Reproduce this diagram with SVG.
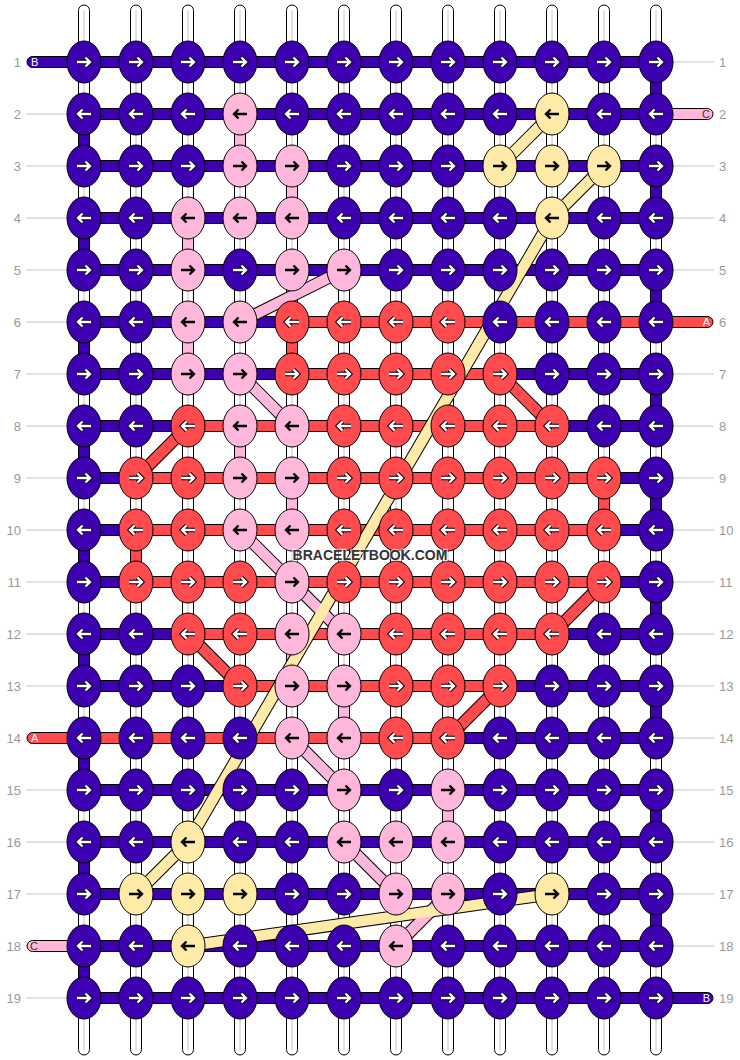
<svg xmlns="http://www.w3.org/2000/svg" xmlns:xlink="http://www.w3.org/1999/xlink" width="740" height="1060" viewBox="0 0 740 1060">
<style>
.bg{fill:#fff}
.w{fill:#fff;stroke:#000;stroke-width:1}
.wl{stroke:#c4c4c4;stroke-width:1}
.s{stroke:#000;stroke-width:1}
.P{fill:#3d00b0}
.R{fill:#ff4b4d}
.K{fill:#ffb8dc}
.Y{fill:#ffeaa8}
.do{stroke:#000;stroke-width:12.5;fill:none}
.dK{stroke:#ffb8dc;stroke-width:10.5;fill:none}
.dY{stroke:#ffeaa8;stroke-width:10.5;fill:none}
.dR{stroke:#ff4b4d;stroke-width:10.5;fill:none}
.lab{font-family:"Liberation Sans",Arial,sans-serif;font-size:13px;fill:#999}
.gl{stroke:#c4c4c4;stroke-width:1}
.tl{font-family:"Liberation Sans",Arial,sans-serif;font-size:11px}
.wm{font-family:"Liberation Sans",Arial,sans-serif;font-size:14px;font-weight:bold;fill:#333;stroke:#fff;stroke-opacity:0.6;stroke-width:2.5;paint-order:stroke}
</style>
<defs>
<ellipse id="kn" cx="0" cy="0" rx="17" ry="21" stroke="#000" stroke-width="1"/>
<path id="ar" d="M-7,0H5M1.5,-4.5L6,0L1.5,4.5" fill="none"/>
<path id="al" d="M7,0H-5M-1.5,-4.5L-6,0L-1.5,4.5" fill="none"/>
<g id="rw"><use href="#ar" stroke="#000" stroke-width="4.4"/><use href="#ar" stroke="#fff" stroke-width="2.4"/></g>
<g id="lw"><use href="#al" stroke="#000" stroke-width="4.4"/><use href="#al" stroke="#fff" stroke-width="2.4"/></g>
<g id="rb"><use href="#ar" stroke="#000" stroke-width="2.4"/></g>
<g id="lb"><use href="#al" stroke="#000" stroke-width="2.4"/></g>
</defs>
<rect class="bg" x="0" y="0" width="740" height="1060"/>

<g id="labels">
<g class="lab" text-anchor="end">
<text x="21" y="66.5">1</text><text x="21" y="118.5">2</text><text x="21" y="170.5">3</text><text x="21" y="222.5">4</text><text x="21" y="274.5">5</text><text x="21" y="326.5">6</text><text x="21" y="378.5">7</text><text x="21" y="430.5">8</text><text x="21" y="482.5">9</text><text x="21" y="534.5">10</text><text x="21" y="586.5">11</text><text x="21" y="638.5">12</text><text x="21" y="690.5">13</text><text x="21" y="742.5">14</text><text x="21" y="794.5">15</text><text x="21" y="846.5">16</text><text x="21" y="898.5">17</text><text x="21" y="950.5">18</text><text x="21" y="1002.5">19</text>
</g>
<g class="lab" text-anchor="start">
<text x="719" y="66.5">1</text><text x="719" y="118.5">2</text><text x="719" y="170.5">3</text><text x="719" y="222.5">4</text><text x="719" y="274.5">5</text><text x="719" y="326.5">6</text><text x="719" y="378.5">7</text><text x="719" y="430.5">8</text><text x="719" y="482.5">9</text><text x="719" y="534.5">10</text><text x="719" y="586.5">11</text><text x="719" y="638.5">12</text><text x="719" y="690.5">13</text><text x="719" y="742.5">14</text><text x="719" y="794.5">15</text><text x="719" y="846.5">16</text><text x="719" y="898.5">17</text><text x="719" y="950.5">18</text><text x="719" y="1002.5">19</text>
</g>
<g class="gl">
<line x1="26" y1="114" x2="68" y2="114"/><line x1="26" y1="166" x2="68" y2="166"/><line x1="26" y1="218" x2="68" y2="218"/><line x1="26" y1="270" x2="68" y2="270"/><line x1="26" y1="322" x2="68" y2="322"/><line x1="26" y1="374" x2="68" y2="374"/><line x1="26" y1="426" x2="68" y2="426"/><line x1="26" y1="478" x2="68" y2="478"/><line x1="26" y1="530" x2="68" y2="530"/><line x1="26" y1="582" x2="68" y2="582"/><line x1="26" y1="634" x2="68" y2="634"/><line x1="26" y1="686" x2="68" y2="686"/><line x1="26" y1="790" x2="68" y2="790"/><line x1="26" y1="842" x2="68" y2="842"/><line x1="26" y1="894" x2="68" y2="894"/><line x1="26" y1="998" x2="68" y2="998"/>
<line x1="672" y1="62" x2="714" y2="62"/><line x1="672" y1="166" x2="714" y2="166"/><line x1="672" y1="218" x2="714" y2="218"/><line x1="672" y1="270" x2="714" y2="270"/><line x1="672" y1="374" x2="714" y2="374"/><line x1="672" y1="426" x2="714" y2="426"/><line x1="672" y1="478" x2="714" y2="478"/><line x1="672" y1="530" x2="714" y2="530"/><line x1="672" y1="582" x2="714" y2="582"/><line x1="672" y1="634" x2="714" y2="634"/><line x1="672" y1="686" x2="714" y2="686"/><line x1="672" y1="738" x2="714" y2="738"/><line x1="672" y1="790" x2="714" y2="790"/><line x1="672" y1="842" x2="714" y2="842"/><line x1="672" y1="894" x2="714" y2="894"/><line x1="672" y1="946" x2="714" y2="946"/>
</g>
</g>

<g id="connectors">
<g id="warps">
<rect class="w" x="78.5" y="5" width="11" height="1050" rx="5.5"/><line class="wl" x1="84" y1="10" x2="84" y2="1050"/>
<rect class="w" x="130.5" y="5" width="11" height="1050" rx="5.5"/><line class="wl" x1="136" y1="10" x2="136" y2="1050"/>
<rect class="w" x="182.5" y="5" width="11" height="1050" rx="5.5"/><line class="wl" x1="188" y1="10" x2="188" y2="1050"/>
<rect class="w" x="234.5" y="5" width="11" height="1050" rx="5.5"/><line class="wl" x1="240" y1="10" x2="240" y2="1050"/>
<rect class="w" x="286.5" y="5" width="11" height="1050" rx="5.5"/><line class="wl" x1="292" y1="10" x2="292" y2="1050"/>
<rect class="w" x="338.5" y="5" width="11" height="1050" rx="5.5"/><line class="wl" x1="344" y1="10" x2="344" y2="1050"/>
<rect class="w" x="390.5" y="5" width="11" height="1050" rx="5.5"/><line class="wl" x1="396" y1="10" x2="396" y2="1050"/>
<rect class="w" x="442.5" y="5" width="11" height="1050" rx="5.5"/><line class="wl" x1="448" y1="10" x2="448" y2="1050"/>
<rect class="w" x="494.5" y="5" width="11" height="1050" rx="5.5"/><line class="wl" x1="500" y1="10" x2="500" y2="1050"/>
<rect class="w" x="546.5" y="5" width="11" height="1050" rx="5.5"/><line class="wl" x1="552" y1="10" x2="552" y2="1050"/>
<rect class="w" x="598.5" y="5" width="11" height="1050" rx="5.5"/><line class="wl" x1="604" y1="10" x2="604" y2="1050"/>
<rect class="w" x="650.5" y="5" width="11" height="1050" rx="5.5"/><line class="wl" x1="656" y1="10" x2="656" y2="1050"/>
</g>
<g id="vertical-links">
<rect class="s P" x="650.5" y="62" width="11" height="52"/><rect class="s P" x="650.5" y="166" width="11" height="52"/><rect class="s P" x="650.5" y="270" width="11" height="52"/><rect class="s P" x="650.5" y="374" width="11" height="52"/><rect class="s P" x="650.5" y="478" width="11" height="52"/><rect class="s P" x="650.5" y="582" width="11" height="52"/><rect class="s P" x="650.5" y="686" width="11" height="52"/><rect class="s P" x="650.5" y="790" width="11" height="52"/><rect class="s P" x="650.5" y="894" width="11" height="52"/>
<rect class="s P" x="78.5" y="114" width="11" height="52"/><rect class="s P" x="78.5" y="218" width="11" height="52"/><rect class="s P" x="78.5" y="322" width="11" height="52"/><rect class="s P" x="78.5" y="426" width="11" height="52"/><rect class="s P" x="78.5" y="530" width="11" height="52"/><rect class="s P" x="78.5" y="634" width="11" height="52"/><rect class="s P" x="78.5" y="738" width="11" height="52"/><rect class="s P" x="78.5" y="842" width="11" height="52"/><rect class="s P" x="78.5" y="946" width="11" height="52"/>
<rect class="s K" x="234.5" y="114" width="11" height="52"/><rect class="s K" x="286.5" y="166" width="11" height="52"/><rect class="s K" x="182.5" y="218" width="11" height="52"/><rect class="s K" x="182.5" y="322" width="11" height="52"/><rect class="s K" x="234.5" y="426" width="11" height="52"/><rect class="s K" x="286.5" y="478" width="11" height="52"/><rect class="s K" x="286.5" y="634" width="11" height="52"/><rect class="s K" x="338.5" y="686" width="11" height="52"/><rect class="s K" x="442.5" y="790" width="11" height="52"/>
<rect class="s R" x="286.5" y="322" width="11" height="52"/><rect class="s R" x="598.5" y="478" width="11" height="52"/><rect class="s R" x="130.5" y="530" width="11" height="52"/>
</g>
<g id="row-strings">
<rect class="s P" x="27" y="56.5" width="629" height="11" rx="5.5"/>
<rect class="s K" x="645" y="108.5" width="68" height="11" rx="5.5"/><rect class="s P" x="84" y="108.5" width="572" height="11" rx="5.5"/>
<rect class="s P" x="84" y="160.5" width="572" height="11" rx="5.5"/>
<rect class="s P" x="84" y="212.5" width="572" height="11" rx="5.5"/>
<rect class="s P" x="84" y="264.5" width="572" height="11" rx="5.5"/>
<rect class="s P" x="84" y="316.5" width="208" height="11" rx="5.5"/><rect class="s R" x="292" y="316.5" width="421" height="11" rx="5.5"/>
<rect class="s P" x="84" y="368.5" width="208" height="11" rx="5.5"/><rect class="s P" x="500" y="368.5" width="156" height="11" rx="5.5"/><rect class="s R" x="292" y="368.5" width="208" height="11" rx="5.5"/>
<rect class="s P" x="84" y="420.5" width="104" height="11" rx="5.5"/><rect class="s P" x="552" y="420.5" width="104" height="11" rx="5.5"/><rect class="s R" x="188" y="420.5" width="364" height="11" rx="5.5"/>
<rect class="s P" x="84" y="472.5" width="52" height="11" rx="5.5"/><rect class="s P" x="604" y="472.5" width="52" height="11" rx="5.5"/><rect class="s R" x="136" y="472.5" width="468" height="11" rx="5.5"/>
<rect class="s P" x="84" y="524.5" width="52" height="11" rx="5.5"/><rect class="s P" x="604" y="524.5" width="52" height="11" rx="5.5"/><rect class="s R" x="136" y="524.5" width="468" height="11" rx="5.5"/>
<rect class="s P" x="84" y="576.5" width="52" height="11" rx="5.5"/><rect class="s P" x="604" y="576.5" width="52" height="11" rx="5.5"/><rect class="s R" x="136" y="576.5" width="468" height="11" rx="5.5"/>
<rect class="s P" x="84" y="628.5" width="104" height="11" rx="5.5"/><rect class="s P" x="552" y="628.5" width="104" height="11" rx="5.5"/><rect class="s R" x="188" y="628.5" width="364" height="11" rx="5.5"/>
<rect class="s P" x="84" y="680.5" width="156" height="11" rx="5.5"/><rect class="s P" x="500" y="680.5" width="156" height="11" rx="5.5"/><rect class="s R" x="240" y="680.5" width="260" height="11" rx="5.5"/>
<rect class="s P" x="448" y="732.5" width="208" height="11" rx="5.5"/><rect class="s R" x="27" y="732.5" width="421" height="11" rx="5.5"/>
<rect class="s P" x="84" y="784.5" width="572" height="11" rx="5.5"/>
<rect class="s P" x="84" y="836.5" width="572" height="11" rx="5.5"/>
<rect class="s P" x="84" y="888.5" width="572" height="11" rx="5.5"/>
<rect class="s K" x="27" y="940.5" width="68" height="11" rx="5.5"/><rect class="s P" x="84" y="940.5" width="572" height="11" rx="5.5"/>
<rect class="s P" x="84" y="992.5" width="629" height="11" rx="5.5"/>
</g>
<g id="diagonals">
<g class="do">
<line x1="240" y1="322" x2="344" y2="270"/><line x1="240" y1="374" x2="292" y2="426"/><line x1="240" y1="530" x2="292" y2="582"/><line x1="292" y1="582" x2="344" y2="634"/><line x1="292" y1="738" x2="344" y2="790"/><line x1="344" y1="842" x2="396" y2="894"/><line x1="396" y1="946" x2="448" y2="894"/>
<line x1="552" y1="114" x2="500" y2="166"/><line x1="604" y1="166" x2="552" y2="218"/><line x1="552" y1="218" x2="188" y2="842"/><line x1="188" y1="842" x2="136" y2="894"/><line x1="188" y1="946" x2="552" y2="894"/>
<line x1="500" y1="374" x2="552" y2="426"/><line x1="188" y1="426" x2="136" y2="478"/><line x1="604" y1="582" x2="552" y2="634"/><line x1="188" y1="634" x2="240" y2="686"/><line x1="500" y1="686" x2="448" y2="738"/>
</g>
<g class="dK">
<line x1="240" y1="322" x2="344" y2="270"/><line x1="240" y1="374" x2="292" y2="426"/><line x1="240" y1="530" x2="292" y2="582"/><line x1="292" y1="582" x2="344" y2="634"/><line x1="292" y1="738" x2="344" y2="790"/><line x1="344" y1="842" x2="396" y2="894"/><line x1="396" y1="946" x2="448" y2="894"/>
</g>
<g class="dY">
<line x1="552" y1="114" x2="500" y2="166"/><line x1="604" y1="166" x2="552" y2="218"/><line x1="552" y1="218" x2="188" y2="842"/><line x1="188" y1="842" x2="136" y2="894"/><line x1="188" y1="946" x2="552" y2="894"/>
</g>
<g class="dR">
<line x1="500" y1="374" x2="552" y2="426"/><line x1="188" y1="426" x2="136" y2="478"/><line x1="604" y1="582" x2="552" y2="634"/><line x1="188" y1="634" x2="240" y2="686"/><line x1="500" y1="686" x2="448" y2="738"/>
</g>
</g>
</g>

<g id="tail-labels" class="tl">
<text x="31" y="66" fill="#fff">B</text>
<text x="31" y="742" fill="#fff">A</text>
<text x="30" y="950" fill="#333">C</text>
<text x="710" y="118" fill="#333" text-anchor="end">C</text>
<text x="710" y="326" fill="#fff" text-anchor="end">A</text>
<text x="710" y="1002" fill="#fff" text-anchor="end">B</text>
</g>

<g id="knots">
<g id="row1">
<g id="k1-1"><use href="#kn" class="P" x="84" y="62"/><use href="#rw" x="84" y="62"/></g>
<g id="k1-2"><use href="#kn" class="P" x="136" y="62"/><use href="#rw" x="136" y="62"/></g>
<g id="k1-3"><use href="#kn" class="P" x="188" y="62"/><use href="#rw" x="188" y="62"/></g>
<g id="k1-4"><use href="#kn" class="P" x="240" y="62"/><use href="#rw" x="240" y="62"/></g>
<g id="k1-5"><use href="#kn" class="P" x="292" y="62"/><use href="#rw" x="292" y="62"/></g>
<g id="k1-6"><use href="#kn" class="P" x="344" y="62"/><use href="#rw" x="344" y="62"/></g>
<g id="k1-7"><use href="#kn" class="P" x="396" y="62"/><use href="#rw" x="396" y="62"/></g>
<g id="k1-8"><use href="#kn" class="P" x="448" y="62"/><use href="#rw" x="448" y="62"/></g>
<g id="k1-9"><use href="#kn" class="P" x="500" y="62"/><use href="#rw" x="500" y="62"/></g>
<g id="k1-10"><use href="#kn" class="P" x="552" y="62"/><use href="#rw" x="552" y="62"/></g>
<g id="k1-11"><use href="#kn" class="P" x="604" y="62"/><use href="#rw" x="604" y="62"/></g>
<g id="k1-12"><use href="#kn" class="P" x="656" y="62"/><use href="#rw" x="656" y="62"/></g>
</g>
<g id="row2">
<g id="k2-1"><use href="#kn" class="P" x="84" y="114"/><use href="#lw" x="84" y="114"/></g>
<g id="k2-2"><use href="#kn" class="P" x="136" y="114"/><use href="#lw" x="136" y="114"/></g>
<g id="k2-3"><use href="#kn" class="P" x="188" y="114"/><use href="#lw" x="188" y="114"/></g>
<g id="k2-4"><use href="#kn" class="K" x="240" y="114"/><use href="#lb" x="240" y="114"/></g>
<g id="k2-5"><use href="#kn" class="P" x="292" y="114"/><use href="#lw" x="292" y="114"/></g>
<g id="k2-6"><use href="#kn" class="P" x="344" y="114"/><use href="#lw" x="344" y="114"/></g>
<g id="k2-7"><use href="#kn" class="P" x="396" y="114"/><use href="#lw" x="396" y="114"/></g>
<g id="k2-8"><use href="#kn" class="P" x="448" y="114"/><use href="#lw" x="448" y="114"/></g>
<g id="k2-9"><use href="#kn" class="P" x="500" y="114"/><use href="#lw" x="500" y="114"/></g>
<g id="k2-10"><use href="#kn" class="Y" x="552" y="114"/><use href="#lb" x="552" y="114"/></g>
<g id="k2-11"><use href="#kn" class="P" x="604" y="114"/><use href="#lw" x="604" y="114"/></g>
<g id="k2-12"><use href="#kn" class="P" x="656" y="114"/><use href="#lw" x="656" y="114"/></g>
</g>
<g id="row3">
<g id="k3-1"><use href="#kn" class="P" x="84" y="166"/><use href="#rw" x="84" y="166"/></g>
<g id="k3-2"><use href="#kn" class="P" x="136" y="166"/><use href="#rw" x="136" y="166"/></g>
<g id="k3-3"><use href="#kn" class="P" x="188" y="166"/><use href="#rw" x="188" y="166"/></g>
<g id="k3-4"><use href="#kn" class="K" x="240" y="166"/><use href="#rb" x="240" y="166"/></g>
<g id="k3-5"><use href="#kn" class="K" x="292" y="166"/><use href="#rb" x="292" y="166"/></g>
<g id="k3-6"><use href="#kn" class="P" x="344" y="166"/><use href="#rw" x="344" y="166"/></g>
<g id="k3-7"><use href="#kn" class="P" x="396" y="166"/><use href="#rw" x="396" y="166"/></g>
<g id="k3-8"><use href="#kn" class="P" x="448" y="166"/><use href="#rw" x="448" y="166"/></g>
<g id="k3-9"><use href="#kn" class="Y" x="500" y="166"/><use href="#rb" x="500" y="166"/></g>
<g id="k3-10"><use href="#kn" class="Y" x="552" y="166"/><use href="#rb" x="552" y="166"/></g>
<g id="k3-11"><use href="#kn" class="Y" x="604" y="166"/><use href="#rb" x="604" y="166"/></g>
<g id="k3-12"><use href="#kn" class="P" x="656" y="166"/><use href="#rw" x="656" y="166"/></g>
</g>
<g id="row4">
<g id="k4-1"><use href="#kn" class="P" x="84" y="218"/><use href="#lw" x="84" y="218"/></g>
<g id="k4-2"><use href="#kn" class="P" x="136" y="218"/><use href="#lw" x="136" y="218"/></g>
<g id="k4-3"><use href="#kn" class="K" x="188" y="218"/><use href="#lb" x="188" y="218"/></g>
<g id="k4-4"><use href="#kn" class="K" x="240" y="218"/><use href="#lb" x="240" y="218"/></g>
<g id="k4-5"><use href="#kn" class="K" x="292" y="218"/><use href="#lb" x="292" y="218"/></g>
<g id="k4-6"><use href="#kn" class="P" x="344" y="218"/><use href="#lw" x="344" y="218"/></g>
<g id="k4-7"><use href="#kn" class="P" x="396" y="218"/><use href="#lw" x="396" y="218"/></g>
<g id="k4-8"><use href="#kn" class="P" x="448" y="218"/><use href="#lw" x="448" y="218"/></g>
<g id="k4-9"><use href="#kn" class="P" x="500" y="218"/><use href="#lw" x="500" y="218"/></g>
<g id="k4-10"><use href="#kn" class="Y" x="552" y="218"/><use href="#lb" x="552" y="218"/></g>
<g id="k4-11"><use href="#kn" class="P" x="604" y="218"/><use href="#lw" x="604" y="218"/></g>
<g id="k4-12"><use href="#kn" class="P" x="656" y="218"/><use href="#lw" x="656" y="218"/></g>
</g>
<g id="row5">
<g id="k5-1"><use href="#kn" class="P" x="84" y="270"/><use href="#rw" x="84" y="270"/></g>
<g id="k5-2"><use href="#kn" class="P" x="136" y="270"/><use href="#rw" x="136" y="270"/></g>
<g id="k5-3"><use href="#kn" class="K" x="188" y="270"/><use href="#rb" x="188" y="270"/></g>
<g id="k5-4"><use href="#kn" class="P" x="240" y="270"/><use href="#rw" x="240" y="270"/></g>
<g id="k5-5"><use href="#kn" class="K" x="292" y="270"/><use href="#rb" x="292" y="270"/></g>
<g id="k5-6"><use href="#kn" class="K" x="344" y="270"/><use href="#rb" x="344" y="270"/></g>
<g id="k5-7"><use href="#kn" class="P" x="396" y="270"/><use href="#rw" x="396" y="270"/></g>
<g id="k5-8"><use href="#kn" class="P" x="448" y="270"/><use href="#rw" x="448" y="270"/></g>
<g id="k5-9"><use href="#kn" class="P" x="500" y="270"/><use href="#rw" x="500" y="270"/></g>
<g id="k5-10"><use href="#kn" class="P" x="552" y="270"/><use href="#rw" x="552" y="270"/></g>
<g id="k5-11"><use href="#kn" class="P" x="604" y="270"/><use href="#rw" x="604" y="270"/></g>
<g id="k5-12"><use href="#kn" class="P" x="656" y="270"/><use href="#rw" x="656" y="270"/></g>
</g>
<g id="row6">
<g id="k6-1"><use href="#kn" class="P" x="84" y="322"/><use href="#lw" x="84" y="322"/></g>
<g id="k6-2"><use href="#kn" class="P" x="136" y="322"/><use href="#lw" x="136" y="322"/></g>
<g id="k6-3"><use href="#kn" class="K" x="188" y="322"/><use href="#lb" x="188" y="322"/></g>
<g id="k6-4"><use href="#kn" class="K" x="240" y="322"/><use href="#lb" x="240" y="322"/></g>
<g id="k6-5"><use href="#kn" class="R" x="292" y="322"/><use href="#lw" x="292" y="322"/></g>
<g id="k6-6"><use href="#kn" class="R" x="344" y="322"/><use href="#lw" x="344" y="322"/></g>
<g id="k6-7"><use href="#kn" class="R" x="396" y="322"/><use href="#lw" x="396" y="322"/></g>
<g id="k6-8"><use href="#kn" class="R" x="448" y="322"/><use href="#lw" x="448" y="322"/></g>
<g id="k6-9"><use href="#kn" class="P" x="500" y="322"/><use href="#lw" x="500" y="322"/></g>
<g id="k6-10"><use href="#kn" class="P" x="552" y="322"/><use href="#lw" x="552" y="322"/></g>
<g id="k6-11"><use href="#kn" class="P" x="604" y="322"/><use href="#lw" x="604" y="322"/></g>
<g id="k6-12"><use href="#kn" class="P" x="656" y="322"/><use href="#lw" x="656" y="322"/></g>
</g>
<g id="row7">
<g id="k7-1"><use href="#kn" class="P" x="84" y="374"/><use href="#rw" x="84" y="374"/></g>
<g id="k7-2"><use href="#kn" class="P" x="136" y="374"/><use href="#rw" x="136" y="374"/></g>
<g id="k7-3"><use href="#kn" class="K" x="188" y="374"/><use href="#rb" x="188" y="374"/></g>
<g id="k7-4"><use href="#kn" class="K" x="240" y="374"/><use href="#rb" x="240" y="374"/></g>
<g id="k7-5"><use href="#kn" class="R" x="292" y="374"/><use href="#rw" x="292" y="374"/></g>
<g id="k7-6"><use href="#kn" class="R" x="344" y="374"/><use href="#rw" x="344" y="374"/></g>
<g id="k7-7"><use href="#kn" class="R" x="396" y="374"/><use href="#rw" x="396" y="374"/></g>
<g id="k7-8"><use href="#kn" class="R" x="448" y="374"/><use href="#rw" x="448" y="374"/></g>
<g id="k7-9"><use href="#kn" class="R" x="500" y="374"/><use href="#rw" x="500" y="374"/></g>
<g id="k7-10"><use href="#kn" class="P" x="552" y="374"/><use href="#rw" x="552" y="374"/></g>
<g id="k7-11"><use href="#kn" class="P" x="604" y="374"/><use href="#rw" x="604" y="374"/></g>
<g id="k7-12"><use href="#kn" class="P" x="656" y="374"/><use href="#rw" x="656" y="374"/></g>
</g>
<g id="row8">
<g id="k8-1"><use href="#kn" class="P" x="84" y="426"/><use href="#lw" x="84" y="426"/></g>
<g id="k8-2"><use href="#kn" class="P" x="136" y="426"/><use href="#lw" x="136" y="426"/></g>
<g id="k8-3"><use href="#kn" class="R" x="188" y="426"/><use href="#lw" x="188" y="426"/></g>
<g id="k8-4"><use href="#kn" class="K" x="240" y="426"/><use href="#lb" x="240" y="426"/></g>
<g id="k8-5"><use href="#kn" class="K" x="292" y="426"/><use href="#lb" x="292" y="426"/></g>
<g id="k8-6"><use href="#kn" class="R" x="344" y="426"/><use href="#lw" x="344" y="426"/></g>
<g id="k8-7"><use href="#kn" class="R" x="396" y="426"/><use href="#lw" x="396" y="426"/></g>
<g id="k8-8"><use href="#kn" class="R" x="448" y="426"/><use href="#lw" x="448" y="426"/></g>
<g id="k8-9"><use href="#kn" class="R" x="500" y="426"/><use href="#lw" x="500" y="426"/></g>
<g id="k8-10"><use href="#kn" class="R" x="552" y="426"/><use href="#lw" x="552" y="426"/></g>
<g id="k8-11"><use href="#kn" class="P" x="604" y="426"/><use href="#lw" x="604" y="426"/></g>
<g id="k8-12"><use href="#kn" class="P" x="656" y="426"/><use href="#lw" x="656" y="426"/></g>
</g>
<g id="row9">
<g id="k9-1"><use href="#kn" class="P" x="84" y="478"/><use href="#rw" x="84" y="478"/></g>
<g id="k9-2"><use href="#kn" class="R" x="136" y="478"/><use href="#rw" x="136" y="478"/></g>
<g id="k9-3"><use href="#kn" class="R" x="188" y="478"/><use href="#rw" x="188" y="478"/></g>
<g id="k9-4"><use href="#kn" class="K" x="240" y="478"/><use href="#rb" x="240" y="478"/></g>
<g id="k9-5"><use href="#kn" class="K" x="292" y="478"/><use href="#rb" x="292" y="478"/></g>
<g id="k9-6"><use href="#kn" class="R" x="344" y="478"/><use href="#rw" x="344" y="478"/></g>
<g id="k9-7"><use href="#kn" class="R" x="396" y="478"/><use href="#rw" x="396" y="478"/></g>
<g id="k9-8"><use href="#kn" class="R" x="448" y="478"/><use href="#rw" x="448" y="478"/></g>
<g id="k9-9"><use href="#kn" class="R" x="500" y="478"/><use href="#rw" x="500" y="478"/></g>
<g id="k9-10"><use href="#kn" class="R" x="552" y="478"/><use href="#rw" x="552" y="478"/></g>
<g id="k9-11"><use href="#kn" class="R" x="604" y="478"/><use href="#rw" x="604" y="478"/></g>
<g id="k9-12"><use href="#kn" class="P" x="656" y="478"/><use href="#rw" x="656" y="478"/></g>
</g>
<g id="row10">
<g id="k10-1"><use href="#kn" class="P" x="84" y="530"/><use href="#lw" x="84" y="530"/></g>
<g id="k10-2"><use href="#kn" class="R" x="136" y="530"/><use href="#lw" x="136" y="530"/></g>
<g id="k10-3"><use href="#kn" class="R" x="188" y="530"/><use href="#lw" x="188" y="530"/></g>
<g id="k10-4"><use href="#kn" class="K" x="240" y="530"/><use href="#lb" x="240" y="530"/></g>
<g id="k10-5"><use href="#kn" class="K" x="292" y="530"/><use href="#lb" x="292" y="530"/></g>
<g id="k10-6"><use href="#kn" class="R" x="344" y="530"/><use href="#lw" x="344" y="530"/></g>
<g id="k10-7"><use href="#kn" class="R" x="396" y="530"/><use href="#lw" x="396" y="530"/></g>
<g id="k10-8"><use href="#kn" class="R" x="448" y="530"/><use href="#lw" x="448" y="530"/></g>
<g id="k10-9"><use href="#kn" class="R" x="500" y="530"/><use href="#lw" x="500" y="530"/></g>
<g id="k10-10"><use href="#kn" class="R" x="552" y="530"/><use href="#lw" x="552" y="530"/></g>
<g id="k10-11"><use href="#kn" class="R" x="604" y="530"/><use href="#lw" x="604" y="530"/></g>
<g id="k10-12"><use href="#kn" class="P" x="656" y="530"/><use href="#lw" x="656" y="530"/></g>
</g>
<g id="row11">
<g id="k11-1"><use href="#kn" class="P" x="84" y="582"/><use href="#rw" x="84" y="582"/></g>
<g id="k11-2"><use href="#kn" class="R" x="136" y="582"/><use href="#rw" x="136" y="582"/></g>
<g id="k11-3"><use href="#kn" class="R" x="188" y="582"/><use href="#rw" x="188" y="582"/></g>
<g id="k11-4"><use href="#kn" class="R" x="240" y="582"/><use href="#rw" x="240" y="582"/></g>
<g id="k11-5"><use href="#kn" class="K" x="292" y="582"/><use href="#rb" x="292" y="582"/></g>
<g id="k11-6"><use href="#kn" class="R" x="344" y="582"/><use href="#rw" x="344" y="582"/></g>
<g id="k11-7"><use href="#kn" class="R" x="396" y="582"/><use href="#rw" x="396" y="582"/></g>
<g id="k11-8"><use href="#kn" class="R" x="448" y="582"/><use href="#rw" x="448" y="582"/></g>
<g id="k11-9"><use href="#kn" class="R" x="500" y="582"/><use href="#rw" x="500" y="582"/></g>
<g id="k11-10"><use href="#kn" class="R" x="552" y="582"/><use href="#rw" x="552" y="582"/></g>
<g id="k11-11"><use href="#kn" class="R" x="604" y="582"/><use href="#rw" x="604" y="582"/></g>
<g id="k11-12"><use href="#kn" class="P" x="656" y="582"/><use href="#rw" x="656" y="582"/></g>
</g>
<g id="row12">
<g id="k12-1"><use href="#kn" class="P" x="84" y="634"/><use href="#lw" x="84" y="634"/></g>
<g id="k12-2"><use href="#kn" class="P" x="136" y="634"/><use href="#lw" x="136" y="634"/></g>
<g id="k12-3"><use href="#kn" class="R" x="188" y="634"/><use href="#lw" x="188" y="634"/></g>
<g id="k12-4"><use href="#kn" class="R" x="240" y="634"/><use href="#lw" x="240" y="634"/></g>
<g id="k12-5"><use href="#kn" class="K" x="292" y="634"/><use href="#lb" x="292" y="634"/></g>
<g id="k12-6"><use href="#kn" class="K" x="344" y="634"/><use href="#lb" x="344" y="634"/></g>
<g id="k12-7"><use href="#kn" class="R" x="396" y="634"/><use href="#lw" x="396" y="634"/></g>
<g id="k12-8"><use href="#kn" class="R" x="448" y="634"/><use href="#lw" x="448" y="634"/></g>
<g id="k12-9"><use href="#kn" class="R" x="500" y="634"/><use href="#lw" x="500" y="634"/></g>
<g id="k12-10"><use href="#kn" class="R" x="552" y="634"/><use href="#lw" x="552" y="634"/></g>
<g id="k12-11"><use href="#kn" class="P" x="604" y="634"/><use href="#lw" x="604" y="634"/></g>
<g id="k12-12"><use href="#kn" class="P" x="656" y="634"/><use href="#lw" x="656" y="634"/></g>
</g>
<g id="row13">
<g id="k13-1"><use href="#kn" class="P" x="84" y="686"/><use href="#rw" x="84" y="686"/></g>
<g id="k13-2"><use href="#kn" class="P" x="136" y="686"/><use href="#rw" x="136" y="686"/></g>
<g id="k13-3"><use href="#kn" class="P" x="188" y="686"/><use href="#rw" x="188" y="686"/></g>
<g id="k13-4"><use href="#kn" class="R" x="240" y="686"/><use href="#rw" x="240" y="686"/></g>
<g id="k13-5"><use href="#kn" class="K" x="292" y="686"/><use href="#rb" x="292" y="686"/></g>
<g id="k13-6"><use href="#kn" class="K" x="344" y="686"/><use href="#rb" x="344" y="686"/></g>
<g id="k13-7"><use href="#kn" class="R" x="396" y="686"/><use href="#rw" x="396" y="686"/></g>
<g id="k13-8"><use href="#kn" class="R" x="448" y="686"/><use href="#rw" x="448" y="686"/></g>
<g id="k13-9"><use href="#kn" class="R" x="500" y="686"/><use href="#rw" x="500" y="686"/></g>
<g id="k13-10"><use href="#kn" class="P" x="552" y="686"/><use href="#rw" x="552" y="686"/></g>
<g id="k13-11"><use href="#kn" class="P" x="604" y="686"/><use href="#rw" x="604" y="686"/></g>
<g id="k13-12"><use href="#kn" class="P" x="656" y="686"/><use href="#rw" x="656" y="686"/></g>
</g>
<g id="row14">
<g id="k14-1"><use href="#kn" class="P" x="84" y="738"/><use href="#lw" x="84" y="738"/></g>
<g id="k14-2"><use href="#kn" class="P" x="136" y="738"/><use href="#lw" x="136" y="738"/></g>
<g id="k14-3"><use href="#kn" class="P" x="188" y="738"/><use href="#lw" x="188" y="738"/></g>
<g id="k14-4"><use href="#kn" class="P" x="240" y="738"/><use href="#lw" x="240" y="738"/></g>
<g id="k14-5"><use href="#kn" class="K" x="292" y="738"/><use href="#lb" x="292" y="738"/></g>
<g id="k14-6"><use href="#kn" class="K" x="344" y="738"/><use href="#lb" x="344" y="738"/></g>
<g id="k14-7"><use href="#kn" class="R" x="396" y="738"/><use href="#lw" x="396" y="738"/></g>
<g id="k14-8"><use href="#kn" class="R" x="448" y="738"/><use href="#lw" x="448" y="738"/></g>
<g id="k14-9"><use href="#kn" class="P" x="500" y="738"/><use href="#lw" x="500" y="738"/></g>
<g id="k14-10"><use href="#kn" class="P" x="552" y="738"/><use href="#lw" x="552" y="738"/></g>
<g id="k14-11"><use href="#kn" class="P" x="604" y="738"/><use href="#lw" x="604" y="738"/></g>
<g id="k14-12"><use href="#kn" class="P" x="656" y="738"/><use href="#lw" x="656" y="738"/></g>
</g>
<g id="row15">
<g id="k15-1"><use href="#kn" class="P" x="84" y="790"/><use href="#rw" x="84" y="790"/></g>
<g id="k15-2"><use href="#kn" class="P" x="136" y="790"/><use href="#rw" x="136" y="790"/></g>
<g id="k15-3"><use href="#kn" class="P" x="188" y="790"/><use href="#rw" x="188" y="790"/></g>
<g id="k15-4"><use href="#kn" class="P" x="240" y="790"/><use href="#rw" x="240" y="790"/></g>
<g id="k15-5"><use href="#kn" class="P" x="292" y="790"/><use href="#rw" x="292" y="790"/></g>
<g id="k15-6"><use href="#kn" class="K" x="344" y="790"/><use href="#rb" x="344" y="790"/></g>
<g id="k15-7"><use href="#kn" class="P" x="396" y="790"/><use href="#rw" x="396" y="790"/></g>
<g id="k15-8"><use href="#kn" class="K" x="448" y="790"/><use href="#rb" x="448" y="790"/></g>
<g id="k15-9"><use href="#kn" class="P" x="500" y="790"/><use href="#rw" x="500" y="790"/></g>
<g id="k15-10"><use href="#kn" class="P" x="552" y="790"/><use href="#rw" x="552" y="790"/></g>
<g id="k15-11"><use href="#kn" class="P" x="604" y="790"/><use href="#rw" x="604" y="790"/></g>
<g id="k15-12"><use href="#kn" class="P" x="656" y="790"/><use href="#rw" x="656" y="790"/></g>
</g>
<g id="row16">
<g id="k16-1"><use href="#kn" class="P" x="84" y="842"/><use href="#lw" x="84" y="842"/></g>
<g id="k16-2"><use href="#kn" class="P" x="136" y="842"/><use href="#lw" x="136" y="842"/></g>
<g id="k16-3"><use href="#kn" class="Y" x="188" y="842"/><use href="#lb" x="188" y="842"/></g>
<g id="k16-4"><use href="#kn" class="P" x="240" y="842"/><use href="#lw" x="240" y="842"/></g>
<g id="k16-5"><use href="#kn" class="P" x="292" y="842"/><use href="#lw" x="292" y="842"/></g>
<g id="k16-6"><use href="#kn" class="K" x="344" y="842"/><use href="#lb" x="344" y="842"/></g>
<g id="k16-7"><use href="#kn" class="K" x="396" y="842"/><use href="#lb" x="396" y="842"/></g>
<g id="k16-8"><use href="#kn" class="K" x="448" y="842"/><use href="#lb" x="448" y="842"/></g>
<g id="k16-9"><use href="#kn" class="P" x="500" y="842"/><use href="#lw" x="500" y="842"/></g>
<g id="k16-10"><use href="#kn" class="P" x="552" y="842"/><use href="#lw" x="552" y="842"/></g>
<g id="k16-11"><use href="#kn" class="P" x="604" y="842"/><use href="#lw" x="604" y="842"/></g>
<g id="k16-12"><use href="#kn" class="P" x="656" y="842"/><use href="#lw" x="656" y="842"/></g>
</g>
<g id="row17">
<g id="k17-1"><use href="#kn" class="P" x="84" y="894"/><use href="#rw" x="84" y="894"/></g>
<g id="k17-2"><use href="#kn" class="Y" x="136" y="894"/><use href="#rb" x="136" y="894"/></g>
<g id="k17-3"><use href="#kn" class="Y" x="188" y="894"/><use href="#rb" x="188" y="894"/></g>
<g id="k17-4"><use href="#kn" class="Y" x="240" y="894"/><use href="#rb" x="240" y="894"/></g>
<g id="k17-5"><use href="#kn" class="P" x="292" y="894"/><use href="#rw" x="292" y="894"/></g>
<g id="k17-6"><use href="#kn" class="P" x="344" y="894"/><use href="#rw" x="344" y="894"/></g>
<g id="k17-7"><use href="#kn" class="K" x="396" y="894"/><use href="#rb" x="396" y="894"/></g>
<g id="k17-8"><use href="#kn" class="K" x="448" y="894"/><use href="#rb" x="448" y="894"/></g>
<g id="k17-9"><use href="#kn" class="P" x="500" y="894"/><use href="#rw" x="500" y="894"/></g>
<g id="k17-10"><use href="#kn" class="Y" x="552" y="894"/><use href="#rb" x="552" y="894"/></g>
<g id="k17-11"><use href="#kn" class="P" x="604" y="894"/><use href="#rw" x="604" y="894"/></g>
<g id="k17-12"><use href="#kn" class="P" x="656" y="894"/><use href="#rw" x="656" y="894"/></g>
</g>
<g id="row18">
<g id="k18-1"><use href="#kn" class="P" x="84" y="946"/><use href="#lw" x="84" y="946"/></g>
<g id="k18-2"><use href="#kn" class="P" x="136" y="946"/><use href="#lw" x="136" y="946"/></g>
<g id="k18-3"><use href="#kn" class="Y" x="188" y="946"/><use href="#lb" x="188" y="946"/></g>
<g id="k18-4"><use href="#kn" class="P" x="240" y="946"/><use href="#lw" x="240" y="946"/></g>
<g id="k18-5"><use href="#kn" class="P" x="292" y="946"/><use href="#lw" x="292" y="946"/></g>
<g id="k18-6"><use href="#kn" class="P" x="344" y="946"/><use href="#lw" x="344" y="946"/></g>
<g id="k18-7"><use href="#kn" class="K" x="396" y="946"/><use href="#lb" x="396" y="946"/></g>
<g id="k18-8"><use href="#kn" class="P" x="448" y="946"/><use href="#lw" x="448" y="946"/></g>
<g id="k18-9"><use href="#kn" class="P" x="500" y="946"/><use href="#lw" x="500" y="946"/></g>
<g id="k18-10"><use href="#kn" class="P" x="552" y="946"/><use href="#lw" x="552" y="946"/></g>
<g id="k18-11"><use href="#kn" class="P" x="604" y="946"/><use href="#lw" x="604" y="946"/></g>
<g id="k18-12"><use href="#kn" class="P" x="656" y="946"/><use href="#lw" x="656" y="946"/></g>
</g>
<g id="row19">
<g id="k19-1"><use href="#kn" class="P" x="84" y="998"/><use href="#rw" x="84" y="998"/></g>
<g id="k19-2"><use href="#kn" class="P" x="136" y="998"/><use href="#rw" x="136" y="998"/></g>
<g id="k19-3"><use href="#kn" class="P" x="188" y="998"/><use href="#rw" x="188" y="998"/></g>
<g id="k19-4"><use href="#kn" class="P" x="240" y="998"/><use href="#rw" x="240" y="998"/></g>
<g id="k19-5"><use href="#kn" class="P" x="292" y="998"/><use href="#rw" x="292" y="998"/></g>
<g id="k19-6"><use href="#kn" class="P" x="344" y="998"/><use href="#rw" x="344" y="998"/></g>
<g id="k19-7"><use href="#kn" class="P" x="396" y="998"/><use href="#rw" x="396" y="998"/></g>
<g id="k19-8"><use href="#kn" class="P" x="448" y="998"/><use href="#rw" x="448" y="998"/></g>
<g id="k19-9"><use href="#kn" class="P" x="500" y="998"/><use href="#rw" x="500" y="998"/></g>
<g id="k19-10"><use href="#kn" class="P" x="552" y="998"/><use href="#rw" x="552" y="998"/></g>
<g id="k19-11"><use href="#kn" class="P" x="604" y="998"/><use href="#rw" x="604" y="998"/></g>
<g id="k19-12"><use href="#kn" class="P" x="656" y="998"/><use href="#rw" x="656" y="998"/></g>
</g>
</g>

<text id="watermark" class="wm" x="370" y="560" text-anchor="middle">BRACELETBOOK.COM</text>
</svg>
